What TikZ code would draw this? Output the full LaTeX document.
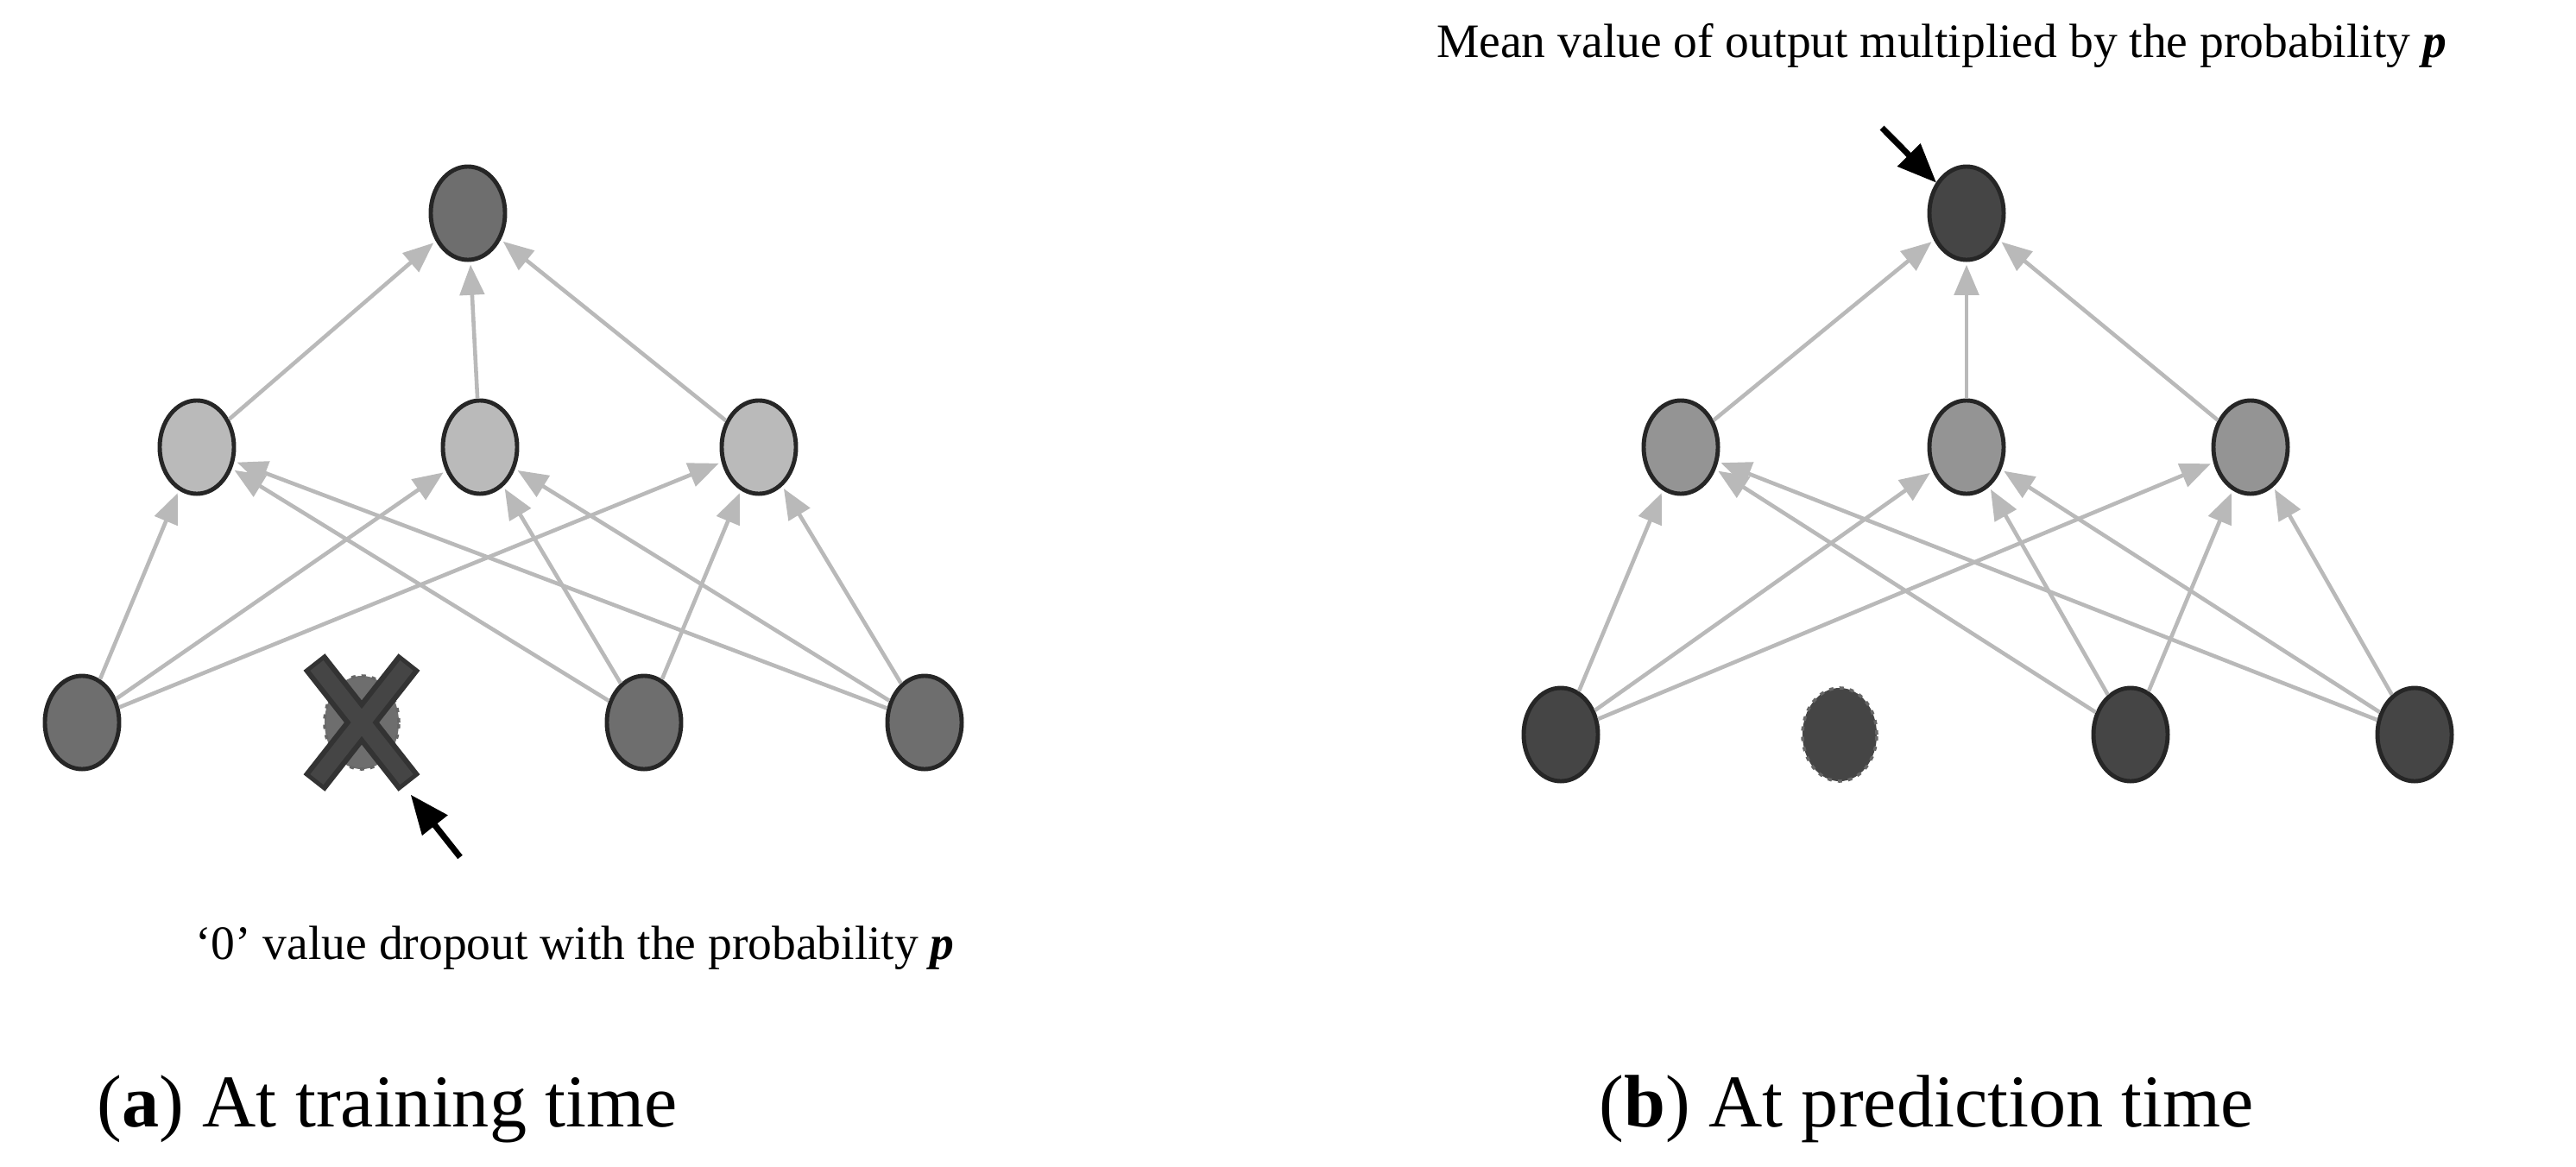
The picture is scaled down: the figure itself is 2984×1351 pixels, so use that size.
\documentclass[tikz,border=0pt]{standalone}
\usepackage{fontspec}
\setmainfont{Liberation Serif}
\usetikzlibrary{arrows}
\usetikzlibrary{shapes.geometric}
\definecolor{gdark}{gray}{0.27}
\definecolor{gmid}{gray}{0.43}
\definecolor{glight}{gray}{0.73}
\definecolor{gpred}{gray}{0.58}
\tikzset{
  neuron/.style={ellipse,draw=black!85,line width=1.4pt,minimum width=0.86cm,minimum height=1.08cm,inner sep=0pt},
  link/.style={draw=gray!55,line width=1.3pt,-triangle 45,shorten >=1pt},
  note/.style={font=\fontsize{15.8}{18}\selectfont},
  caption/.style={font=\fontsize{24.5}{28}\selectfont,anchor=west}
}
\begin{document}
\begin{tikzpicture}[x=0.01cm,y=-0.01cm]
\useasboundingbox (0,0) rectangle (2984,1351);
% (a) training
\node[neuron,fill=gmid] (t1) at (542,247) {};
\foreach \n/\x in {h1/228,h2/556,h3/879}
  \node[neuron,fill=glight] (a\n) at (\x,518) {};
\foreach \n/\x in {i1/95,i3/746,i4/1071}
  \node[neuron,fill=gmid] (a\n) at (\x,837) {};
\node[neuron,fill=gmid,draw=black!60,dotted,line width=1pt] (ai2) at (419,837) {};
\draw[line width=9pt,draw=black!80] (ai2.center) ++(-55,-70) -- ++(110,140) (ai2.center) ++(55,-70) -- ++(-110,140);
\draw[line width=5.5pt,draw=gdark] (ai2.center) ++(-52,-66) -- ++(104,132) (ai2.center) ++(52,-66) -- ++(-104,132);
\foreach \h in {h1,h2,h3}
  \draw[link] (a\h) -- (t1);
\foreach \i in {i1,i3,i4}
  \foreach \h in {h1,h2,h3}
    \draw[link] (a\i) -- (a\h);
\node[note] (adrop) at (666,1098) {`0' value dropout with the probability \textbf{\textit{p}}};
\coordinate (adropstart) at (533,993);
\draw[line width=2pt,-triangle 45] (adropstart) -- (476,921);
% (b) prediction
\node[neuron,fill=gdark] (t2) at (2278,247) {};
\foreach \n/\x in {h1/1947,h2/2278,h3/2607}
  \node[neuron,fill=gpred] (b\n) at (\x,518) {};
\foreach \n/\x in {i1/1808,i3/2468,i4/2797}
  \node[neuron,fill=gdark] (b\n) at (\x,851) {};
\node[neuron,fill=gdark,draw=black!60,dotted,line width=1pt] (bi2) at (2131,851) {};
\foreach \h in {h1,h2,h3}
  \draw[link] (b\h) -- (t2);
\foreach \i in {i1,i3,i4}
  \foreach \h in {h1,h2,h3}
    \draw[link] (b\i) -- (b\h);
\node[note] (bmean) at (2249,53) {Mean value of output multiplied by the probability \textbf{\textit{p}}};
\coordinate (bmeanstart) at (2180,148);
\draw[line width=2pt,-triangle 45] (bmeanstart) -- (t2);
% captions
\node[caption] (capa) at (100,1285) {(\textbf{a}) At training time};
\node[caption] (capb) at (1840,1285) {(\textbf{b}) At prediction time};
\end{tikzpicture}
\end{document}
